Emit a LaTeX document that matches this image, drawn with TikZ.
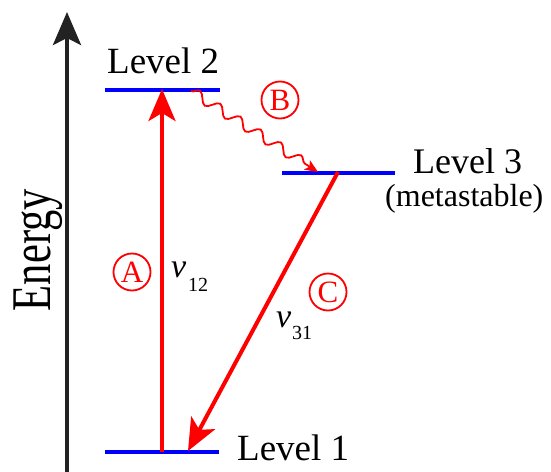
\documentclass[tikz,border=0pt]{standalone}
\usepackage{fontspec}
\setmainfont{Liberation Serif}
\usetikzlibrary{arrows.meta,decorations.pathmorphing}
\definecolor{axisgray}{HTML}{222222}
\tikzset{
  levelline/.style={blue, line width=4pt},
  bigarrow/.style={red, line width=4pt, -{Stealth[length=32pt,width=27pt,inset=8pt]}},
  lbl/.style={inner sep=0pt, anchor=base west, font=\fontsize{37}{37}\selectfont},
  circled/.style={circle, draw=red, line width=1.8pt, minimum size=37pt, inner sep=0pt, text=red, font=\fontsize{31}{31}\selectfont},
  vlbl/.style={inner sep=0pt, anchor=base west, font=\fontsize{34}{34}\selectfont\itshape},
  sublbl/.style={inner sep=0pt, anchor=base west, font=\fontsize{20}{20}\selectfont}
}
\begin{document}
\begin{tikzpicture}[x=1pt,y=-1pt]
\useasboundingbox (0,0) rectangle (551,471);
% energy axis
\coordinate (ax0) at (67,473);
\coordinate (ax1) at (67,12);
\draw[axisgray, line width=4pt, -{Stealth[length=33pt,width=28pt,inset=7pt]}] (ax0) -- (ax1);
\node[rotate=90, anchor=base, inner sep=0pt] (energy) at (50,250) {\scalebox{0.76}[1]{\fontsize{56}{56}\selectfont Energy}};
% levels
\coordinate (l2a) at (105,90); \coordinate (l2b) at (220,90);
\coordinate (l3a) at (282,173); \coordinate (l3b) at (395,173);
\coordinate (l1a) at (105,452); \coordinate (l1b) at (219,452);
\draw[levelline] (l2a) -- (l2b);
\draw[levelline] (l3a) -- (l3b);
\draw[levelline] (l1a) -- (l1b);
\node[lbl] (t2) at (107,73) {Level 2};
\node[lbl, font=\fontsize{36}{36}\selectfont] (t3) at (413,173) {Level 3};
\node[lbl, font=\fontsize{32}{32}\selectfont] (t3m) at (385,206) {(metastable)};
\node[lbl] (t1) at (237,460) {Level 1};
% transitions
\coordinate (a0) at (162,452); \coordinate (a1) at (162,89);
\draw[bigarrow] (a0) -- (a1);
\coordinate (c0) at (338,172); \coordinate (c1) at (188,451);
\draw[bigarrow] (c0) -- (c1);
\coordinate (b0) at (191,91); \coordinate (b1) at (318,172);
\draw[red, line width=1.8pt, decorate, decoration={snake, amplitude=5pt, segment length=24pt, post length=10pt}, -{Stealth[length=13pt,width=11pt,inset=3pt]}] (b0) -- (b1);
% circled letters
\node[circled] (cA) at (132,272) {A};
\node[circled] (cB) at (280,100) {B};
\node[circled] (cC) at (328,292) {C};
% frequencies
\node[vlbl] (v12) at (171,277) {v};
\node[sublbl] (s12) at (188,291) {12};
\node[vlbl] (v31) at (276,327) {v};
\node[sublbl] (s31) at (292,339) {31};
\end{tikzpicture}
\end{document}
